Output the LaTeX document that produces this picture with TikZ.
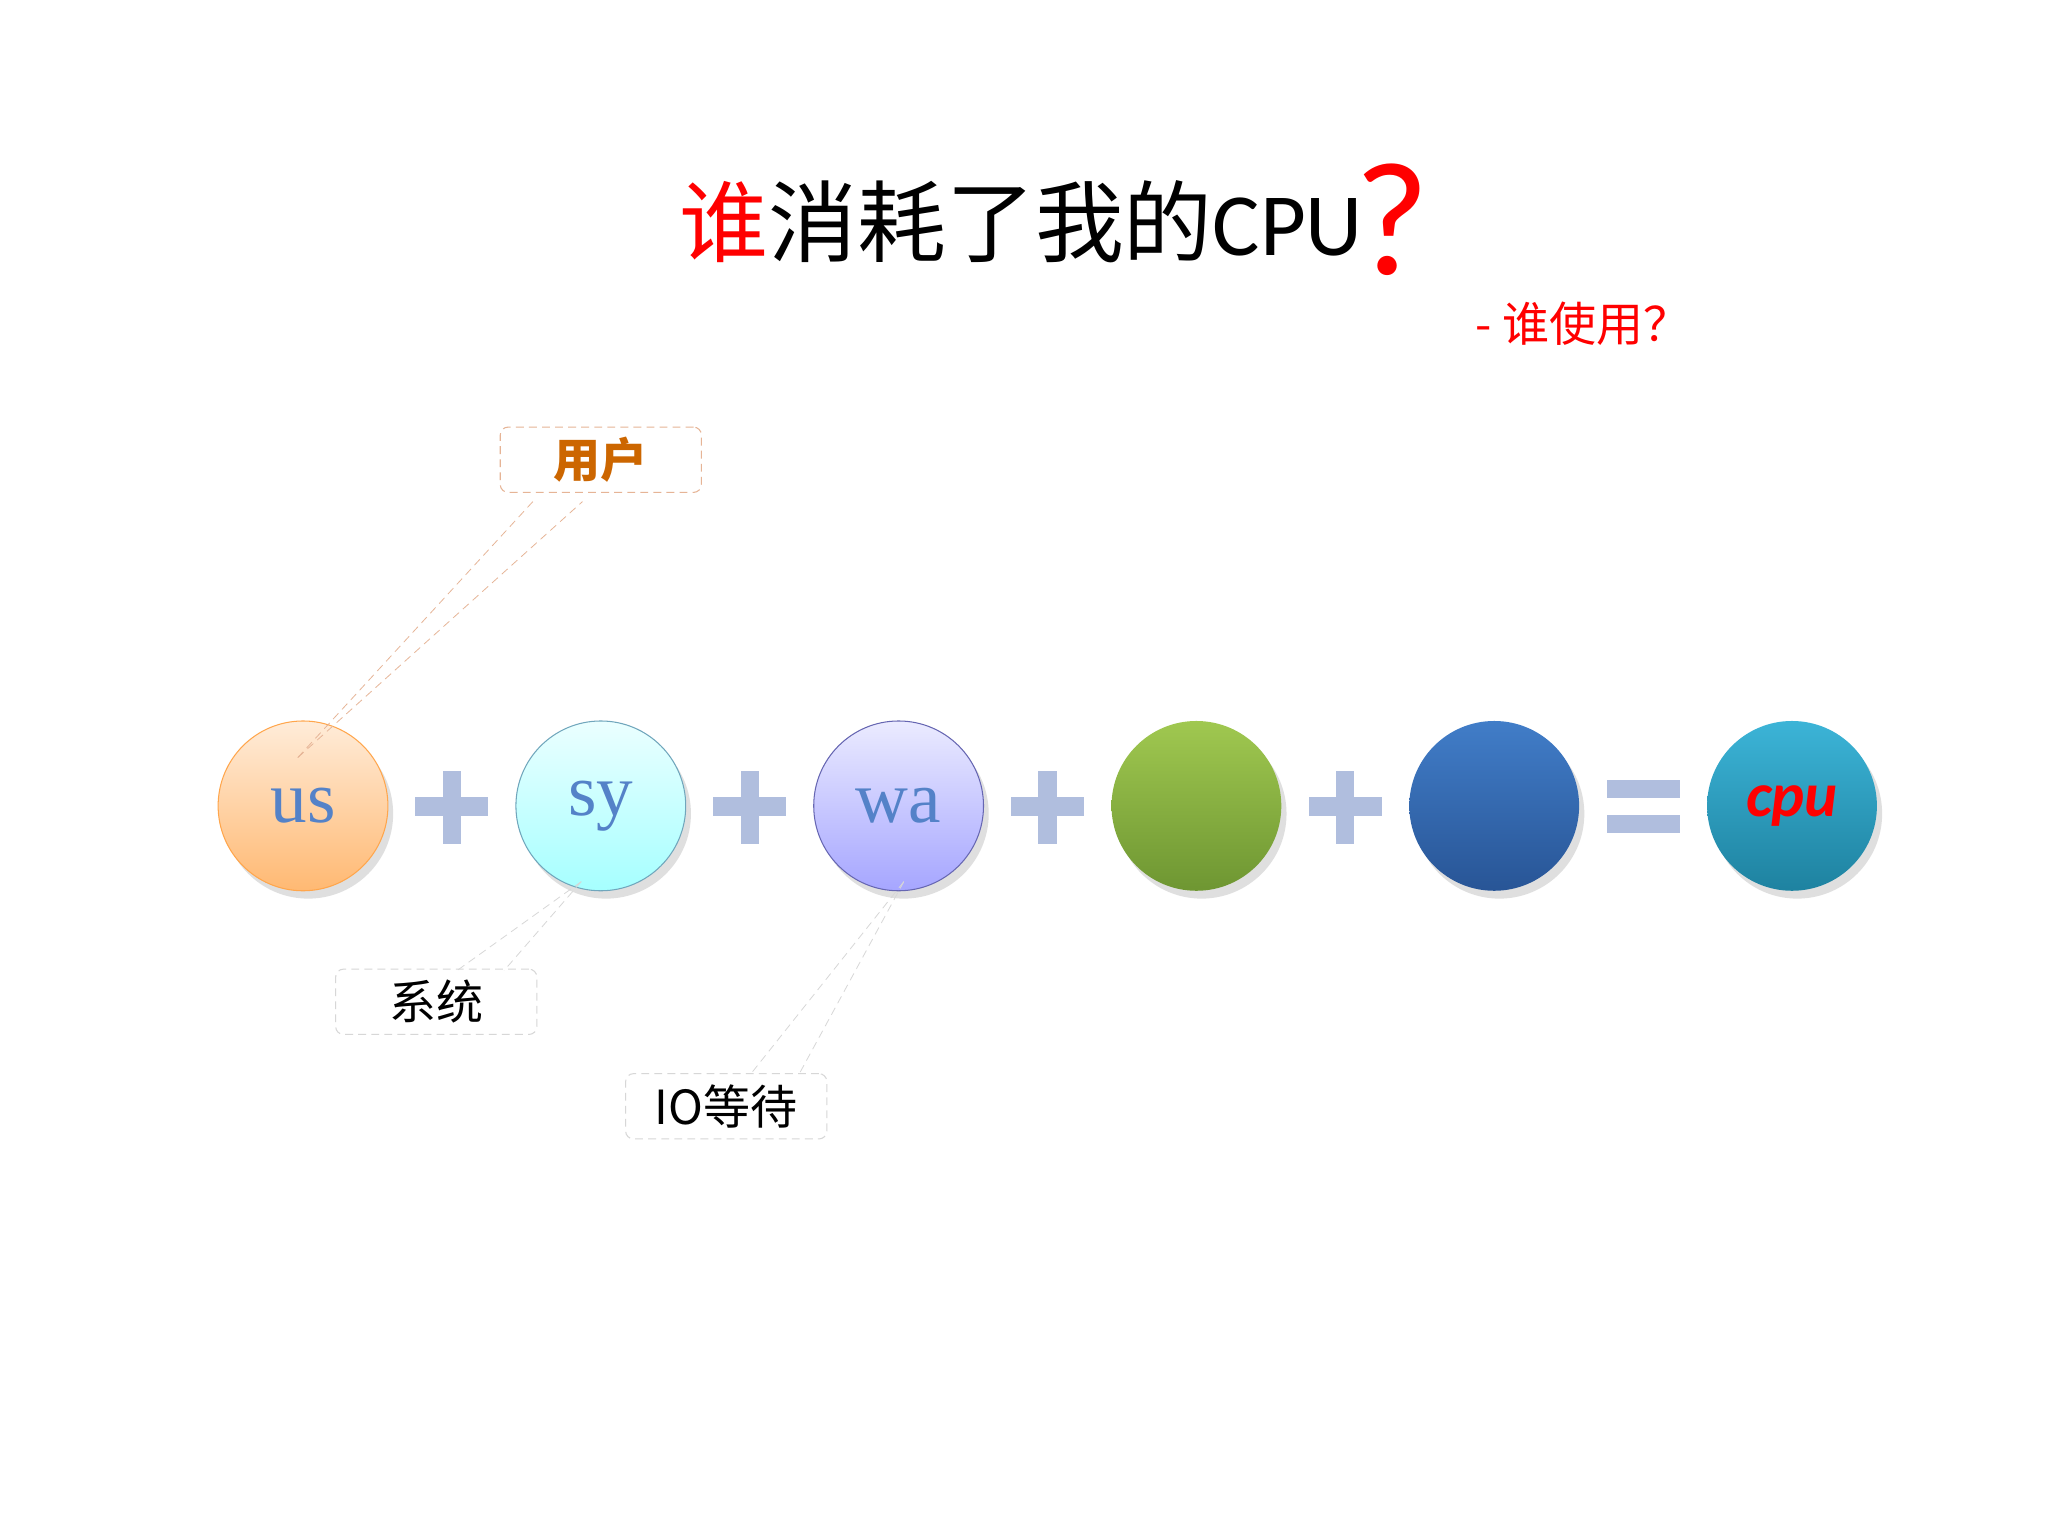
\documentclass[tikz,border=0pt]{standalone}
\usepackage{fontspec}
\setmainfont{Carlito}
\newfontfamily\cjk{Noto Sans CJK SC}
\newfontfamily\serifft{Liberation Serif}
\usetikzlibrary{shadows}
\definecolor{plusc}{RGB}{176,190,222}
\definecolor{txtblue}{RGB}{84,130,200}
\definecolor{callo}{RGB}{230,180,150}
\definecolor{callg}{RGB}{215,215,215}
\begin{document}
\begin{tikzpicture}[x=0.5pt,y=-0.5pt,
  ball/.style={circle,minimum size=65pt,inner sep=0pt,drop shadow={opacity=0.25,shadow xshift=2pt,shadow yshift=-3pt}},
  callbox/.style={draw=#1,densely dashed,rounded corners=3pt,line width=0.4pt,minimum width=77pt,minimum height=25pt},
  leader/.style={draw=#1,densely dashed,line width=0.3pt},
  opsign/.style={fill=plusc,draw=none}]
\useasboundingbox (0,0) rectangle (1568,1176);
\fill[white] (0,0) rectangle (1568,1176);
% title
\node[anchor=center] (title) at (782,170) {\fontsize{34pt}{34pt}\selectfont\cjk\textcolor{red}{谁}消耗了我的\setmainfont{Carlito}\fontspec{Carlito}CPU};
\node (qm) at (1066,168) {\fontsize{62pt}{62pt}\selectfont\color{red}\fontspec{Carlito}?};
\node (sub) at (1212,248) {\fontsize{18pt}{18pt}\selectfont\color{red}\cjk - 谁使用？};
% balls
\node[ball,top color=orange!15,bottom color=orange!55,draw=orange!70] (us) at (232,617) {\serifft\fontsize{28pt}{28pt}\selectfont\color{txtblue}us};
\node[ball,top color=cyan!8,bottom color=cyan!35,draw=cyan!60!black!70] (sy) at (460,617) {\serifft\fontsize{28pt}{28pt}\selectfont\color{txtblue}sy};
\node[ball,top color=blue!8,bottom color=blue!35,draw=blue!50!black!60] (wa) at (688,617) {\serifft\fontsize{28pt}{28pt}\selectfont\color{txtblue}wa};
\node[ball,top color={rgb,255:red,160;green,200;blue,80},bottom color={rgb,255:red,110;green,150;blue,50}] (g) at (916,617) {};
\node[ball,top color={rgb,255:red,65;green,125;blue,200},bottom color={rgb,255:red,40;green,85;blue,150}] (b) at (1144,617) {};
\node[ball,top color={rgb,255:red,60;green,180;blue,215},bottom color={rgb,255:red,30;green,130;blue,160}] (cpu) at (1372,617) {\fontsize{24pt}{24pt}\selectfont\itshape\bfseries\color{red}cpu};
% plus signs
\foreach \x in {346,574,802,1030}{
  \fill[opsign] (\x-28,610) rectangle (\x+28,625);
  \fill[opsign] (\x-7,590) rectangle (\x+7,646);
}
\fill[opsign] (1230,597) rectangle (1286,611);
\fill[opsign] (1230,624) rectangle (1286,638);
% callouts
\node[callbox=callo] (user) at (460,352) {\fontsize{18pt}{18pt}\selectfont\cjk\bfseries\color{orange!80!black}用户};
\node[callbox=callg] (sys) at (334,767) {\fontsize{18pt}{18pt}\selectfont\cjk 系统};
\node[callbox=callg] (io) at (556,847) {\fontsize{18pt}{18pt}\selectfont\cjk IO等待};
\coordinate (ut) at (228,580);
\coordinate (st) at (445,675);
\coordinate (wt) at (692,675);
\draw[leader=callo] (ut) -- (408,384);
\draw[leader=callo] (ut) -- (446,384);
\draw[leader=callg] (st) -- (350,743);
\draw[leader=callg] (st) -- (386,743);
\draw[leader=callg] (wt) -- (575,822);
\draw[leader=callg] (wt) -- (612,822);
\end{tikzpicture}
\end{document}
